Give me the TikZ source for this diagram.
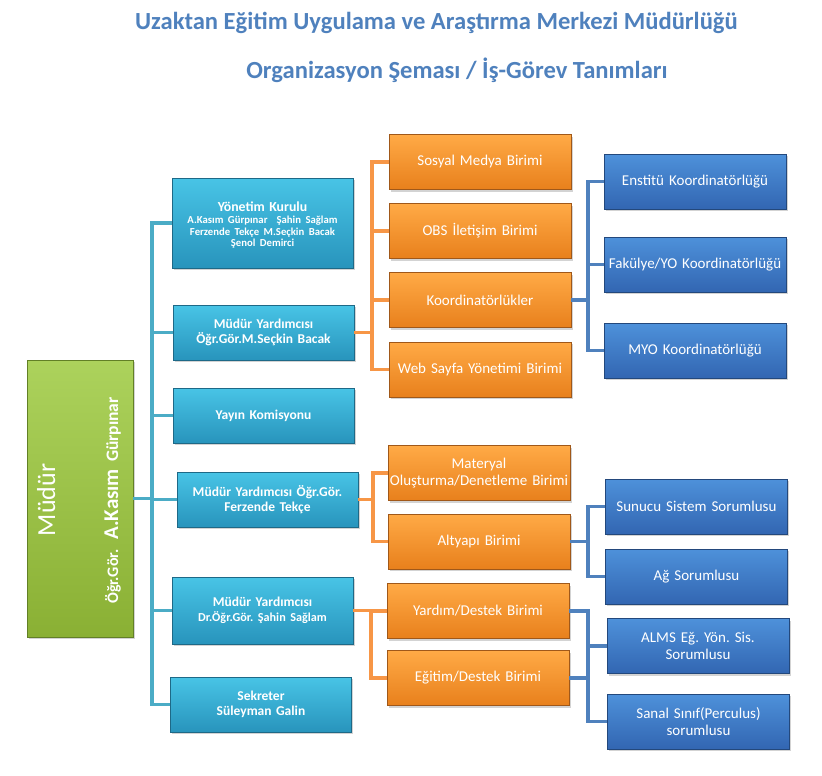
\documentclass[tikz,border=0pt]{standalone}
\usepackage{fontspec}
\setmainfont{Carlito}
\usepackage{tikz}
\usetikzlibrary{shadows}
\frenchspacing
\setlength{\lineskiplimit}{-20pt}

\definecolor{titleblue}{RGB}{79,129,189}
\definecolor{cyantop}{RGB}{72,196,230}
\definecolor{cyanbot}{RGB}{40,148,188}
\definecolor{cyanedge}{RGB}{30,105,135}
\definecolor{orangetop}{RGB}{255,170,70}
\definecolor{orangebot}{RGB}{232,128,28}
\definecolor{orangeedge}{RGB}{160,88,25}
\definecolor{bluetop}{RGB}{78,145,218}
\definecolor{bluebot}{RGB}{50,102,178}
\definecolor{blueedge}{RGB}{35,72,124}
\definecolor{greentop}{RGB}{172,210,92}
\definecolor{greenbot}{RGB}{138,176,52}
\definecolor{greenedge}{RGB}{98,128,38}
\definecolor{cyanline}{RGB}{75,172,198}
\definecolor{orangeline}{RGB}{247,150,70}
\definecolor{blueline}{RGB}{79,129,189}

\begin{document}
\begin{tikzpicture}[x=1pt,y=-1pt]
			\tikzstyle{unit} = [draw,line width=0.7pt,inner sep=1pt,align=center,text=white,drop shadow={opacity=0.35,shadow xshift=1.5pt,shadow yshift=-2pt}]
			\tikzstyle{cyanbox} = [unit,draw=cyanedge,top color=cyantop,bottom color=cyanbot,text width=179pt,minimum height=55pt,font=\bfseries\fontsize{13.5}{15}\selectfont]
			\tikzstyle{orangebox} = [unit,draw=orangeedge,top color=orangetop,bottom color=orangebot,text width=180pt,minimum height=55pt,font=\fontsize{15}{17}\selectfont]
			\tikzstyle{bluebox} = [unit,draw=blueedge,top color=bluetop,bottom color=bluebot,text width=180pt,minimum height=55pt,font=\fontsize{15}{17}\selectfont]
			\tikzstyle{greenbox} = [unit,draw=greenedge,top color=greentop,bottom color=greenbot,minimum width=106pt,minimum height=277pt]
			\tikzstyle{heading} = [anchor=base,inner sep=0pt,text=titleblue,font=\bfseries\fontsize{24.6}{28}\selectfont]
			\tikzstyle{cyanlink} = [draw=cyanline,line width=3.5pt]
			\tikzstyle{orangelink} = [draw=orangeline,line width=3.5pt]
			\tikzstyle{bluelink} = [draw=blueline,line width=3.5pt]
			
			\useasboundingbox (0,0) rectangle (822,776);
			
			\node[heading] (title) at (436.5,30) {Uzaktan Eğitim Uygulama ve Araştırma Merkezi Müdürlüğü};
			\node[heading] (subtitle) at (457,78) {Organizasyon Şeması / İş-Görev Tanımları};
			
			\node[greenbox] (mudur) at (80,498.5) {};
			\node[rotate=90,anchor=base,inner sep=0pt,text=white,font=\fontsize{26}{30}\selectfont] (mudurT) at (55,500) {Müdür};
			\node[rotate=90,anchor=base,inner sep=0pt,text=white,font=\bfseries] (mudurN) at (118,500.5) {{\fontsize{16}{18}\selectfont Öğr.Gör.}\hspace{10pt}{\fontsize{21}{24}\selectfont A.Kasım}\hspace{7pt}{\fontsize{17.5}{20}\selectfont Gürpınar}};
			
			\node[cyanbox,minimum height=90pt] (board) at (262.5,223) {{\fontsize{13.8}{15}\selectfont\rule{0pt}{14pt}Yönetim Kurulu}\\[0.5pt]\fontsize{10.7}{11.7}\selectfont A.Kasım Gürpınar\ \ Şahin Sağlam\\Ferzende Tekçe M.Seçkin Bacak\\Şenol Demirci\par};
			\node[cyanbox] (deputyA) at (263.5,332.5) {Müdür Yardımcısı\\Öğr.Gör.M.Seçkin Bacak};
			\node[cyanbox] (yayin) at (263.5,415.5) {Yayın Komisyonu};
			\node[cyanbox] (deputyB) at (267.5,499.5) {Müdür Yardımcısı Öğr.Gör.\\Ferzende Tekçe};
			\node[cyanbox,minimum height=67pt] (deputyC) at (262.5,610.5) {Müdür Yardımcısı\\{\fontsize{12.2}{14}\selectfont Dr.Öğr.Gör. Şahin Sağlam}};
			\node[cyanbox] (secretary) at (261,704.5) {Sekreter\\Süleyman Galin};
			
			\node[orangebox] (social) at (480,162) {Sosyal Medya Birimi};
			\node[orangebox] (obs) at (480,231) {OBS İletişim Birimi};
			\node[orangebox] (coord) at (480,300) {Koordinatörlükler};
			\node[orangebox] (web) at (480,369.5) {Web Sayfa Yönetimi Birimi};
			\node[orangebox] (material) at (479,473) {Materyal\\Oluşturma/Denetleme Birimi};
			\node[orangebox] (infra) at (479,541.5) {Altyapı Birimi};
			\node[orangebox] (helpdesk) at (478,611) {Yardım/Destek Birimi};
			\node[orangebox] (training) at (478,678) {Eğitim/Destek Birimi};
			
			\node[bluebox] (institute) at (695,181.5) {Enstitü Koordinatörlüğü};
			\node[bluebox] (faculty) at (695,264.5) {Fakülye/YO Koordinatörlüğü};
			\node[bluebox] (myo) at (695,350.5) {MYO Koordinatörlüğü};
			\node[bluebox] (server) at (696.5,506.5) {Sunucu Sistem Sorumlusu};
			\node[bluebox] (network) at (696.5,576.5) {Ağ Sorumlusu};
			\node[bluebox] (alms) at (698,646) {ALMS Eğ. Yön. Sis.\\Sorumlusu};
			\node[bluebox] (virtual) at (698.5,721.5) {Sanal Sınıf(Perculus)\\sorumlusu};
			
			\coordinate (cbus) at (152,500);
			\draw[cyanlink] (board.west) -| (cbus) |- (secretary.west);
			\foreach \n in {deputyA,yayin,deputyB,deputyC}
				\draw[cyanlink] (\n.west) -- (\n.west -| cbus);
			\draw[cyanlink] (mudur.east) -- (mudur.east -| cbus);
			
			\coordinate (obusA) at (372,300);
			\draw[orangelink] (social.west) -| (obusA) |- (web.west);
			\foreach \n in {obs,coord}
				\draw[orangelink] (\n.west) -- (\n.west -| obusA);
			\draw[orangelink] (deputyA.east) -- (deputyA.east -| obusA);
			
			\coordinate (bbusA) at (588,300);
			\draw[bluelink] (institute.west) -| (bbusA) |- (myo.west);
			\draw[bluelink] (faculty.west) -- (faculty.west -| bbusA);
			\draw[bluelink] (coord.east) -- (coord.east -| bbusA);
			
			\coordinate (obusB) at (373,500);
			\draw[orangelink] (material.west) -| (obusB) |- (infra.west);
			\draw[orangelink] (deputyB.east) -- (deputyB.east -| obusB);
			
			\coordinate (bbusB) at (588,540);
			\draw[bluelink] (server.west) -| (bbusB) |- (network.west);
			\draw[bluelink] (infra.east) -- (infra.east -| bbusB);
			
			\coordinate (obusC) at (371,640);
			\draw[orangelink] (helpdesk.west) -| (obusC) |- (training.west);
			\draw[orangelink] (deputyC.east) -- (deputyC.east -| obusC);
			
			\coordinate (bbusC) at (588,660);
			\draw[bluelink] (helpdesk.east) -| (bbusC) |- (virtual.west);
			\draw[bluelink] (alms.west) -- (alms.west -| bbusC);
			\draw[bluelink] (training.east) -- (training.east -| bbusC);
		\end{tikzpicture}
\end{document}
